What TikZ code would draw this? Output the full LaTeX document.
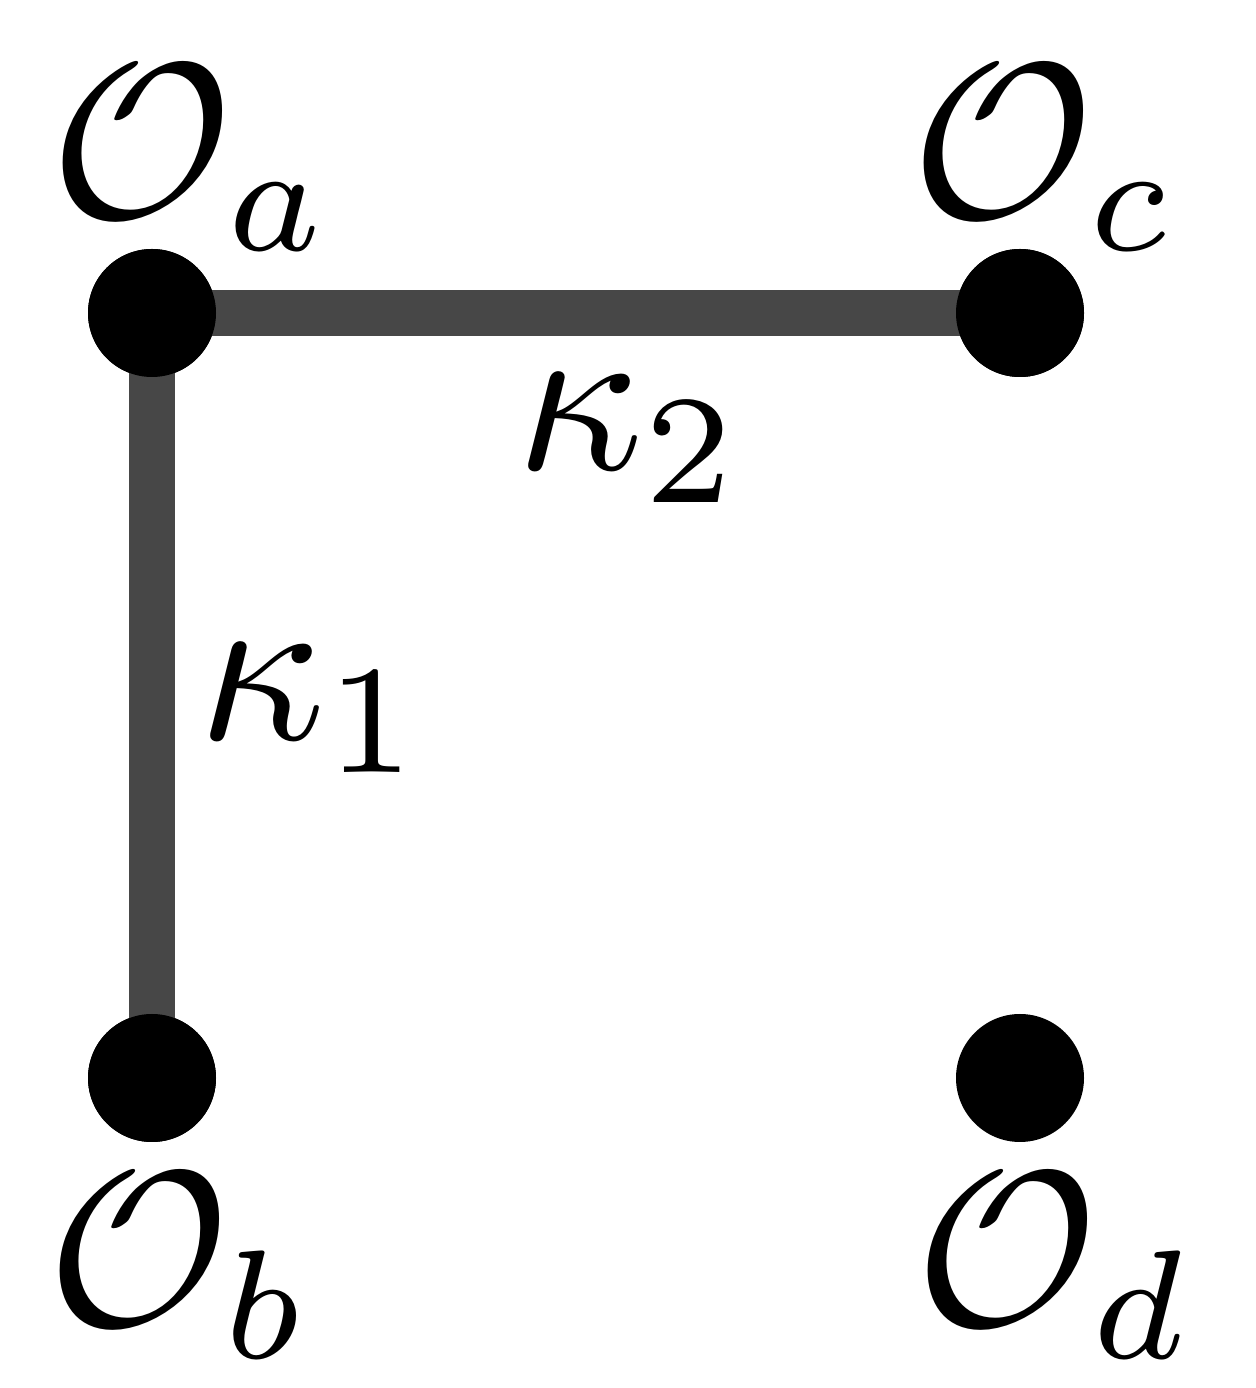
\documentclass[tikz,border=0pt]{standalone}
\usetikzlibrary{positioning}
\tikzset{
    dot/.style={circle, fill=black, minimum size=1.28cm, inner sep=0pt},
    bond/.style={line width=0.46cm, draw={rgb,255:red,71;green,71;blue,71}},
    lab/.style={scale=6.3, inner sep=0pt}
}
\begin{document}
\begin{tikzpicture}
    \useasboundingbox (0,0) rectangle (12.55,13.88);
    \node[dot] (a) at (1.52,10.75) {};
    \node[dot] (c) at (10.20,10.75) {};
    \node[dot] (b) at (1.52,3.10) {};
    \node[dot] (d) at (10.20,3.10) {};
    \draw[bond] (a.center) -- (c.center);
    \draw[bond] (a.center) -- (b.center);
    \node[dot] at (a) {};
    \node[dot] at (c) {};
    \node[dot] at (b) {};
    % labels
    \node[lab] (la) at (1.92,12.30) {$\mathcal{O}_a$};
    \node[lab] (lc) at (10.45,12.30) {$\mathcal{O}_c$};
    \node[lab] (lb) at (1.80,1.22) {$\mathcal{O}_b$};
    \node[lab] (ld) at (10.55,1.22) {$\mathcal{O}_d$};
    \node[lab] (k2) at (6.30,9.50) {$\kappa_2$};
    \node[lab] (k1) at (3.12,6.80) {$\kappa_1$};
\end{tikzpicture}
\end{document}
